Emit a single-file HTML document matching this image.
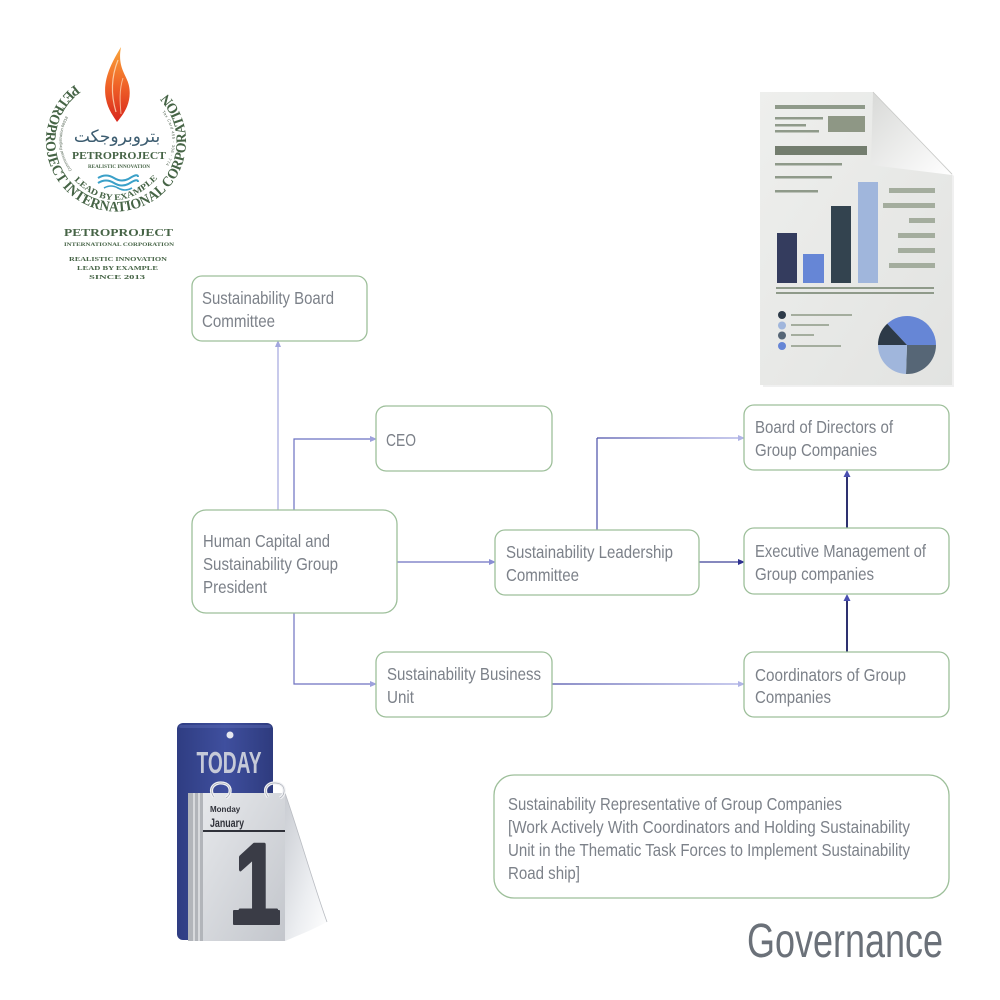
<!DOCTYPE html>
<html><head><meta charset="utf-8"><style>
html,body{margin:0;padding:0;background:#fff;}
svg{display:block;}
.t{font-family:"Liberation Sans Narrow","Liberation Sans",sans-serif;font-size:17.5px;fill:#7c8189;}
.box{fill:#fff;stroke:#9dbf9a;stroke-width:1.3;}
.lg{font-family:"Liberation Serif",serif;font-weight:bold;fill:#466446;}
</style></head><body>
<svg width="1000" height="1000" viewBox="0 0 1000 1000" xmlns="http://www.w3.org/2000/svg">
<defs>
<linearGradient id="flame" x1="0" y1="0" x2="0" y2="1">
<stop offset="0" stop-color="#f9a43a"/><stop offset="0.5" stop-color="#f06428"/><stop offset="1" stop-color="#d8261c"/>
</linearGradient>
<linearGradient id="gTop" gradientUnits="userSpaceOnUse" x1="597" y1="0" x2="744" y2="0">
<stop offset="0" stop-color="#4a4ea8"/><stop offset="1" stop-color="#a8ace4"/>
</linearGradient>
<linearGradient id="gBot" gradientUnits="userSpaceOnUse" x1="552" y1="0" x2="744" y2="0">
<stop offset="0" stop-color="#4a4ea8"/><stop offset="1" stop-color="#a8ace4"/>
</linearGradient>
<linearGradient id="board" x1="0" y1="0" x2="1" y2="0">
<stop offset="0" stop-color="#2f3d82"/><stop offset="0.5" stop-color="#3f4f9e"/><stop offset="1" stop-color="#2e3b7e"/>
</linearGradient>
<linearGradient id="page" x1="0" y1="0" x2="1" y2="1">
<stop offset="0" stop-color="#e6e8eb"/><stop offset="1" stop-color="#c3c6cc"/>
</linearGradient>
<linearGradient id="curl" x1="0" y1="0" x2="1" y2="1">
<stop offset="0" stop-color="#c9ccd2"/><stop offset="0.6" stop-color="#eceef1"/><stop offset="1" stop-color="#ffffff"/>
</linearGradient>
<linearGradient id="doc" x1="0" y1="0" x2="1" y2="1">
<stop offset="0" stop-color="#eeefed"/><stop offset="1" stop-color="#e2e3e1"/>
</linearGradient>
<linearGradient id="flap" x1="0" y1="0" x2="1" y2="1">
<stop offset="0" stop-color="#d8d9d7"/><stop offset="1" stop-color="#ffffff"/>
</linearGradient>
<path id="arcOuter" d="M74.9,84.8 A70,70 0 1 0 157.1,84.8"/>
<path id="arcLead" d="M74,180 Q116,222 160,176"/>
<path id="arcL" d="M72,170 A46,46 0 0 1 72,112"/>
<path id="arcR" d="M162,112 A46,46 0 0 1 162,170"/>
</defs>

<!-- ===== LOGO ===== -->
<path d="M121,47 C112,62 102,80 106,99 C108,110 114,117 117,122 C125,113 132,101 129,86 C127,75 117,68 121,47 Z" fill="url(#flame)"/>
<path d="M118,60 C112,75 110,92 116,112" stroke="#fde0c0" stroke-width="1.2" fill="none" opacity="0.8"/>
<path d="M123,78 C119,90 120,103 121,114" stroke="#fde0c0" stroke-width="1" fill="none" opacity="0.7"/>
<text class="lg" font-size="14.5"><textPath href="#arcOuter" textLength="338" lengthAdjust="spacingAndGlyphs">PETROPROJECT INTERNATIONAL CORPORATION</textPath></text>
<text font-family="DejaVu Sans,sans-serif" font-size="17" fill="#3c5c70" x="117" y="142" text-anchor="middle">بتروبروجكت</text>
<text class="lg" font-size="10.5" x="119" y="159" text-anchor="middle" textLength="94" lengthAdjust="spacingAndGlyphs">PETROPROJECT</text>
<text class="lg" font-size="5" x="119" y="168" text-anchor="middle" textLength="62" lengthAdjust="spacingAndGlyphs">REALISTIC INNOVATION</text>
<path d="M98,178 q8,-5 16,0 t16,0 t8,-1" stroke="#3aa0c8" stroke-width="2" fill="none"/>
<path d="M98,183 q8,-5 16,0 t16,0 t8,-1" stroke="#3aa0c8" stroke-width="2" fill="none"/>
<path d="M104,188 q7,-4 14,0 t14,0" stroke="#3aa0c8" stroke-width="1.6" fill="none"/>
<text class="lg" font-size="8.5"><textPath href="#arcLead" textLength="96" lengthAdjust="spacingAndGlyphs">LEAD BY EXAMPLE</textPath></text>
<text font-family="Liberation Sans,sans-serif" font-size="4" fill="#556655"><textPath href="#arcL" textLength="56">Commercial Registration 68918</textPath></text>
<text font-family="Liberation Sans,sans-serif" font-size="4" fill="#556655"><textPath href="#arcR" textLength="56">Tax Card 455 - 306 - 774</textPath></text>

<text class="lg" font-size="10.5" x="118.5" y="236" text-anchor="middle" textLength="109" lengthAdjust="spacingAndGlyphs">PETROPROJECT</text>
<text class="lg" font-size="5.5" x="119" y="246" text-anchor="middle" textLength="110" lengthAdjust="spacingAndGlyphs" font-weight="normal">INTERNATIONAL CORPORATION</text>
<text class="lg" font-size="6.5" x="118" y="261" text-anchor="middle" textLength="98" lengthAdjust="spacingAndGlyphs" font-weight="normal">REALISTIC INNOVATION</text>
<text class="lg" font-size="6.5" x="117.5" y="270" text-anchor="middle" textLength="81" lengthAdjust="spacingAndGlyphs" font-weight="normal">LEAD BY EXAMPLE</text>
<text class="lg" font-size="6.5" x="117" y="279" text-anchor="middle" textLength="56" lengthAdjust="spacingAndGlyphs" font-weight="normal">SINCE 2013</text>

<!-- ===== DOCUMENT ILLUSTRATION ===== -->
<path d="M761,93 L873,92 L952,174 L952,385 L761,385 Z" fill="#000" opacity="0.06" transform="translate(2,2)"/>
<path d="M760,92 L873,92 L952,174 L952,385 L760,385 Z" fill="url(#doc)"/>
<path d="M873,92 L871,165 L952,175 Z" fill="url(#flap)"/>
<path d="M873,92 L952,174" stroke="#c8c9c7" stroke-width="0.8"/>
<g fill="#8f9a8a">
<rect x="775" y="105" width="90" height="4"/>
<rect x="775" y="117" width="48" height="2.5"/>
<rect x="775" y="124" width="31" height="2.5"/>
<rect x="775" y="130" width="44" height="2.5"/>
<rect x="828" y="116" width="37" height="16" fill="#8e9785"/>
<rect x="775" y="146" width="92" height="9" fill="#737d6e"/>
<rect x="775" y="163" width="67" height="2.5"/>
<rect x="775" y="176" width="57" height="2.5"/>
<rect x="775" y="190" width="43" height="2.5"/>
<rect x="776" y="287" width="158" height="2"/>
<rect x="776" y="292" width="158" height="2"/>
</g>
<rect x="777" y="233" width="20" height="50" fill="#343c5e"/>
<rect x="803" y="254" width="21" height="29" fill="#6686d6"/>
<rect x="831" y="206" width="20" height="77" fill="#33434f"/>
<rect x="858" y="182" width="20" height="101" fill="#a0b6dc"/>
<g fill="#a4ad9e">
<rect x="889" y="188" width="46" height="5"/>
<rect x="883" y="203" width="52" height="5"/>
<rect x="909" y="218" width="26" height="5"/>
<rect x="898" y="233" width="37" height="5"/>
<rect x="898" y="248" width="37" height="5"/>
<rect x="889" y="263" width="46" height="5"/>
<rect x="791" y="314" width="61" height="2"/>
<rect x="791" y="324" width="38" height="2"/>
<rect x="791" y="334" width="23" height="2"/>
<rect x="791" y="345" width="50" height="2"/>
</g>
<circle cx="782" cy="315" r="4" fill="#2d3a48"/>
<circle cx="782" cy="325.5" r="4" fill="#a0b6dc"/>
<circle cx="782" cy="335.5" r="4" fill="#566676"/>
<circle cx="782" cy="346" r="4" fill="#6686d6"/>
<path d="M907,345 L887.2,323.8 A29,29 0 0 1 936,345 Z" fill="#6686d6"/>
<path d="M907,345 L936,345 A29,29 0 0 1 906,374 Z" fill="#566676"/>
<path d="M907,345 L906,374 A29,29 0 0 1 878,345 Z" fill="#a0b6dc"/>
<path d="M907,345 L878,345 A29,29 0 0 1 887.2,323.8 Z" fill="#2d3a48"/>

<!-- ===== CALENDAR ===== -->
<rect x="177" y="723" width="96" height="217" rx="6" fill="url(#board)"/>
<rect x="179" y="725" width="92" height="3" rx="2" fill="#5566b0" opacity="0.5"/>
<circle cx="230" cy="735" r="3.5" fill="#e6e8f0"/>
<text x="229" y="773" text-anchor="middle" font-family="Liberation Sans Narrow,Liberation Sans,sans-serif" font-weight="bold" font-size="31" fill="#c6cad8" textLength="65" lengthAdjust="spacingAndGlyphs">TODAY</text>
<rect x="188" y="793" width="97" height="148" fill="#c8cbd0"/>
<rect x="188" y="793" width="15" height="148" fill="#b2b5ba"/>
<rect x="193" y="793" width="2" height="148" fill="#d8dadd"/>
<rect x="198" y="793" width="2" height="148" fill="#d8dadd"/>
<rect x="203" y="793" width="82" height="148" fill="url(#page)"/>
<path d="M285,793 C298,830 312,880 327,922 C312,930 297,936 285,941 Z" fill="url(#curl)"/>
<path d="M285,793 C298,830 312,880 327,922" stroke="#b9bcc2" stroke-width="0.8" fill="none"/>
<path d="M214,797 C207,788 216,780 226,784 C232,787 231,795 226,798" stroke="#f0f1f4" stroke-width="3.2" fill="none"/>
<path d="M214,797 C207,788 216,780 226,784 C232,787 231,795 226,798" stroke="#9ea2ab" stroke-width="0.6" fill="none"/>
<path d="M268,797 C261,788 270,780 280,784 C286,787 285,795 280,798" stroke="#f0f1f4" stroke-width="3.2" fill="none"/>
<path d="M268,797 C261,788 270,780 280,784 C286,787 285,795 280,798" stroke="#9ea2ab" stroke-width="0.6" fill="none"/>
<text x="210" y="812" font-family="Liberation Sans Narrow,Liberation Sans,sans-serif" font-weight="bold" font-size="8" fill="#30323a">Monday</text>
<text x="210" y="827" font-family="Liberation Sans Narrow,Liberation Sans,sans-serif" font-weight="bold" font-size="12" fill="#30323a" textLength="34" lengthAdjust="spacingAndGlyphs">January</text>
<rect x="203" y="830" width="82" height="2" fill="#30323a"/>
<text x="257" y="922" text-anchor="middle" font-family="Liberation Sans,sans-serif" font-weight="bold" font-size="112" fill="#3a3c46" stroke="#3a3c46" stroke-width="4" stroke-linejoin="round" textLength="44" lengthAdjust="spacingAndGlyphs">1</text>
<rect x="233" y="910" width="47" height="15" rx="1" fill="#3a3c46"/>

<!-- ===== CONNECTORS ===== -->
<g fill="none" stroke-width="1.2">
<path d="M278,510 V345" stroke="#a3a7de"/>
<path d="M294,510 V439 H371" stroke="#6b70c2"/>
<path d="M397,562 H490" stroke="#6e72c0"/>
<path d="M294,613 V684 H371" stroke="#6e72c0"/>
<path d="M597,530 V438" stroke="#4a4ea8"/>
<path d="M597,438 H739" stroke="url(#gTop)"/>
<path d="M552,684 H739" stroke="url(#gBot)"/>
<path d="M699,562 H739" stroke="#3e4298"/>
<path d="M847,528 V476" stroke="#2e3170" stroke-width="2"/>
<path d="M847,652 V600" stroke="#2e3170" stroke-width="2"/>
</g>
<g>
<polygon points="278,340 275,347 281,347" fill="#a3a7de"/>
<polygon points="377,439 370,436 370,442" fill="#9da1dc"/>
<polygon points="496,562 489,559 489,565" fill="#8a8ed4"/>
<polygon points="377,684 370,681 370,687" fill="#9da1dc"/>
<polygon points="745,438 738,435 738,441" fill="#b0b4e6"/>
<polygon points="745,562 738,559 738,565" fill="#2e3190"/>
<polygon points="745,684 738,681 738,687" fill="#b0b4e6"/>
<polygon points="847,470 843.5,477 850.5,477" fill="#4a4fb0"/>
<polygon points="847,594 843.5,601 850.5,601" fill="#4a4fb0"/>
</g>

<!-- ===== BOXES ===== -->
<rect class="box" x="192" y="276" width="175" height="65" rx="10"/>
<rect class="box" x="376" y="406" width="176" height="65" rx="10"/>
<rect class="box" x="192" y="510" width="205" height="103" rx="14"/>
<rect class="box" x="495" y="530" width="204" height="65" rx="10"/>
<rect class="box" x="744" y="405" width="205" height="65" rx="10"/>
<rect class="box" x="744" y="528" width="205" height="66" rx="10"/>
<rect class="box" x="744" y="652" width="205" height="65" rx="10"/>
<rect class="box" x="376" y="652" width="176" height="65" rx="10"/>
<rect class="box" x="494" y="775" width="455" height="123" rx="20"/>

<!-- ===== LABELS ===== -->
<text class="t" x="202" y="304" textLength="132" lengthAdjust="spacingAndGlyphs">Sustainability Board</text>
<text class="t" x="202" y="327" textLength="73" lengthAdjust="spacingAndGlyphs">Committee</text>
<text class="t" x="386" y="446" textLength="30" lengthAdjust="spacingAndGlyphs">CEO</text>
<text class="t" x="203" y="547" textLength="127" lengthAdjust="spacingAndGlyphs">Human Capital and</text>
<text class="t" x="203" y="570" textLength="135" lengthAdjust="spacingAndGlyphs">Sustainability Group</text>
<text class="t" x="203" y="593" textLength="64" lengthAdjust="spacingAndGlyphs">President</text>
<text class="t" x="506" y="558" textLength="167" lengthAdjust="spacingAndGlyphs">Sustainability Leadership</text>
<text class="t" x="506" y="581" textLength="73" lengthAdjust="spacingAndGlyphs">Committee</text>
<text class="t" x="755" y="433" textLength="138" lengthAdjust="spacingAndGlyphs">Board of Directors of</text>
<text class="t" x="755" y="456" textLength="122" lengthAdjust="spacingAndGlyphs">Group Companies</text>
<text class="t" x="755" y="557" textLength="171" lengthAdjust="spacingAndGlyphs">Executive Management of</text>
<text class="t" x="755" y="580" textLength="119" lengthAdjust="spacingAndGlyphs">Group companies</text>
<text class="t" x="755" y="681" textLength="151" lengthAdjust="spacingAndGlyphs">Coordinators of Group</text>
<text class="t" x="755" y="703" textLength="76" lengthAdjust="spacingAndGlyphs">Companies</text>
<text class="t" x="387" y="680" textLength="154" lengthAdjust="spacingAndGlyphs">Sustainability Business</text>
<text class="t" x="387" y="703" textLength="27" lengthAdjust="spacingAndGlyphs">Unit</text>
<text class="t" x="508" y="810" font-size="17" textLength="334" lengthAdjust="spacingAndGlyphs">Sustainability Representative of Group Companies</text>
<text class="t" x="508" y="833" font-size="17" textLength="402" lengthAdjust="spacingAndGlyphs">[Work Actively With Coordinators and Holding Sustainability</text>
<text class="t" x="508" y="856" font-size="17" textLength="402" lengthAdjust="spacingAndGlyphs">Unit in the Thematic Task Forces to Implement Sustainability</text>
<text class="t" x="508" y="879" font-size="17" textLength="72" lengthAdjust="spacingAndGlyphs">Road ship]</text>
<text x="747" y="957" font-family="Liberation Sans Narrow,Liberation Sans,sans-serif" font-size="48" fill="#6b7179" textLength="196" lengthAdjust="spacingAndGlyphs">Governance</text>
</svg>
</body></html>
